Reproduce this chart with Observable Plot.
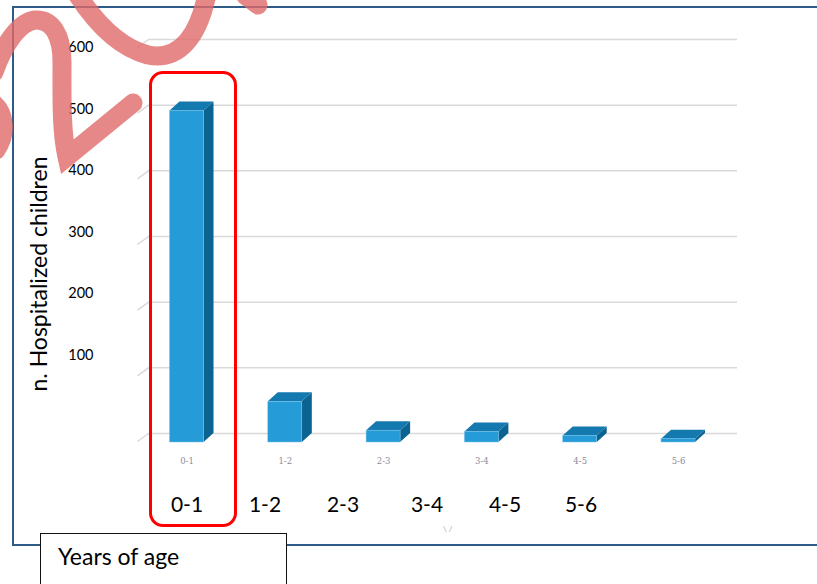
<!DOCTYPE html>
<html>
<head>
<meta charset="utf-8">
<script src="https://cdn.jsdelivr.net/npm/d3@7"></script>
<script src="https://cdn.jsdelivr.net/npm/@observablehq/plot@0.6"></script>
<style>
  html, body { margin: 0; padding: 0; background: #fff; }
  #wrap { position: relative; width: 817px; height: 584px; overflow: hidden; font-family: Lato, "Open Sans", sans-serif; }
  #frame { position: absolute; left: 12px; top: 6px; width: 900px; height: 536px; border: 2px solid #2e5b88; box-sizing: content-box; }
  #chart { position: absolute; left: 0; top: 0; }
  #ytitle { position: absolute; left: 38px; top: 274px; transform: translate(-50%, -50%) rotate(-90deg); white-space: nowrap; font-size: 23px; color: #000; }
  .cat { position: absolute; top: 503px; transform: translate(-50%, -50%); font-size: 21px; color: #000; white-space: nowrap; }
  #xbox { position: absolute; left: 40px; top: 533px; width: 245px; height: 80px; border: 1.5px solid #111; background: #fff; }
  #xbox span { position: absolute; left: 17px; top: 8px; font-size: 23px; color: #000; }
  #redbox { position: absolute; left: 149px; top: 71px; width: 82px; height: 450px; border: 3px solid #ff0000; border-radius: 14px; }
  #tiny { position: absolute; left: 443px; top: 524px; font-size: 8px; color: #9aa; }
  #wm { position: absolute; left: 0; top: 0; }
</style>
</head>
<body>
<div id="wrap">
  <div id="frame"></div>
  <div id="chart"></div>
  <div id="ytitle">n. Hospitalized children</div>
  <div id="cats"></div>
  <div id="tiny">\ /</div>
  <div id="xbox"><span>Years of age</span></div>
  <div id="redbox"></div>
  <svg id="wm" width="817" height="584">
    <g fill="none" stroke="#e06a6a" stroke-opacity="0.8" stroke-width="19" stroke-linecap="round" stroke-linejoin="miter">
      <path d="M -6,72 C 4,44 19,22 35,20 C 52,19 62,35 62,62 C 62,96 61,130 67,157 L 133,103"/>
      <path d="M -6,104 C 5,114 7,134 -4,150"/>
      <path d="M 77,-6 C 95,22 118,47 148,55 C 178,61 198,38 207,-6"/>
      <path d="M 246,-4 L 258,5"/>
    </g>
  </svg>
</div>
<script>
// ---- data ----
const categories = ["0-1", "1-2", "2-3", "3-4", "4-5", "5-6"];
const hospitalized = [505, 62, 18, 16, 10, 5];
const yTickValues = [100, 200, 300, 400, 500, 600];
const gridValues = [0, 100, 200, 300, 400, 500, 600];
const annotationLabels = categories; // typed labels under the chart
const annotationX = [187, 265, 343, 427, 505, 581]; // layout of typed labels

// ---- layout constants (pixels) ----
const W = 817, H = 584;
const mL = 148, mR = 80, mT = 39, mB = 151;
const stepPx = 98.3;           // px between bar centres
const firstCenterPx = 186.5;   // px centre of first bar front face
const x0 = (mL - firstCenterPx) / stepPx;
const x1 = (W - mR - firstCenterPx) / stepPx;
const pxPerY = (H - mB - mT) / 600;
const HALF = 17 / stepPx;      // half front width, in x units
const DXu = 10 / stepPx;       // depth in x units
const DYu = 9 / pxPerY;        // depth in y units
const FRONT_DY = 9;            // front plane offset (px)
// 3D front axis perspective: labels sit on a slightly compressed scale
const AXIS_SHRINK = 0.936, AXIS_SHIFT = 25.9;

const bars = categories.map((c, i) => ({cat: c, i, v: hospitalized[i]}));
const sideData = bars.flatMap(d => [
  {i: d.i, x: d.i + HALF, y1: 0, y2: d.v},
  {i: d.i, x: d.i + HALF + DXu, y1: DYu, y2: d.v + DYu}
]);
const topData = bars.flatMap(d => [
  {i: d.i, y: d.v, x1: d.i - HALF, x2: d.i + HALF},
  {i: d.i, y: d.v + DYu, x1: d.i - HALF + DXu, x2: d.i + HALF + DXu}
]);

const chart = Plot.plot({
  width: W, height: H,
  marginLeft: mL, marginRight: mR, marginTop: mT, marginBottom: mB,
  style: {background: "transparent", fontFamily: "Lato, sans-serif", overflow: "visible"},
  x: {domain: [x0, x1], axis: null},
  y: {domain: [0, 600], axis: null},
  marks: [
    Plot.ruleY(gridValues, {stroke: "#d9d9d9", strokeWidth: 1.5}),
    Plot.link(gridValues, {x1: x0, y1: d => d, x2: x0 - 11 / stepPx, y2: d => d - 8 / pxPerY, stroke: "#d9d9d9", strokeWidth: 1.5}),
    Plot.areaY(sideData, {x: "x", y1: "y1", y2: "y2", z: "i", fill: "#0b6390", dy: FRONT_DY}),
    Plot.areaX(topData, {y: "y", x1: "x1", x2: "x2", z: "i", fill: "#1479ae", dy: FRONT_DY}),
    Plot.rect(bars, {x1: d => d.i - HALF, x2: d => d.i + HALF, y1: 0, y2: "v", fill: "#259bd8", stroke: "#7cc3ea", strokeWidth: 0.5, dy: FRONT_DY}),
    Plot.text(bars, {x: "i", y: 0, text: "cat", dy: 28, fontSize: 8.5, fill: "#8c8c9c", fontFamily: "DejaVu Serif, serif"}),
    Plot.text(yTickValues, {x: x0, y: d => d * AXIS_SHRINK + AXIS_SHIFT, text: d => String(d), dx: -55, textAnchor: "end", fontSize: 14.5, fill: "#000", fontFamily: "Lato, sans-serif"})
  ]
});
document.getElementById("chart").appendChild(chart);

const catsDiv = document.getElementById("cats");
annotationLabels.forEach((t, i) => {
  const s = document.createElement("div");
  s.className = "cat";
  s.style.left = annotationX[i] + "px";
  s.textContent = t;
  catsDiv.appendChild(s);
});
</script>
</body>
</html>
